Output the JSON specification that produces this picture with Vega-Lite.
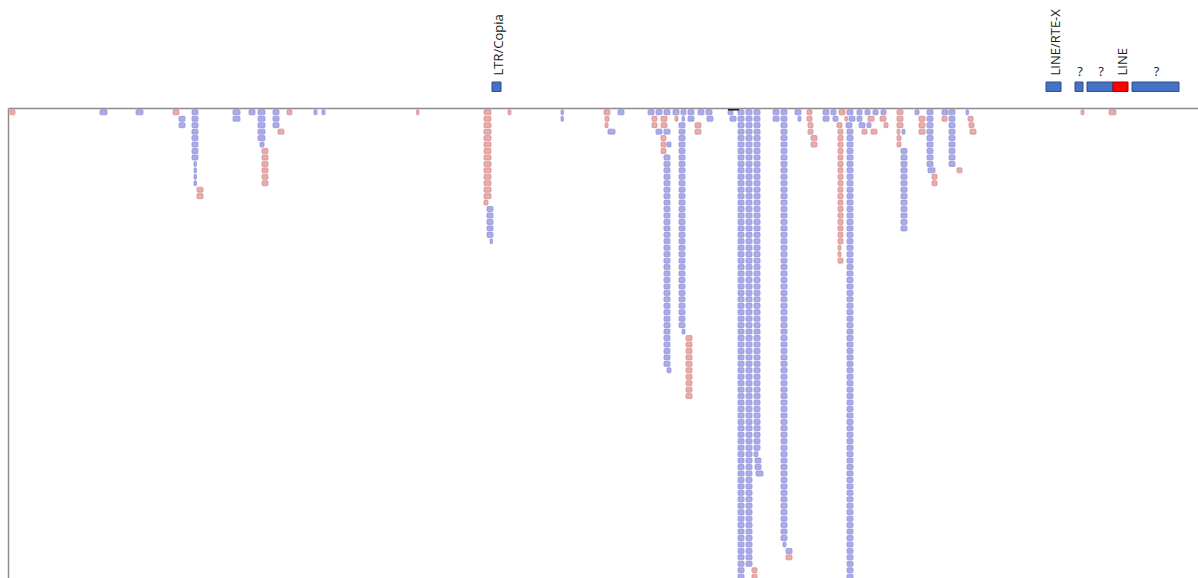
{
  "$schema": "https://vega.github.io/schema/vega-lite/v6.json",
  "width": 1190,
  "height": 470,
  "autosize": {"type": "none"},
  "padding": {"left": 8, "top": 108, "right": 0, "bottom": 0},
  "background": "white",
  "config": {"view": {"stroke": null}},
  "datasets": {
    "reads": [
      {"a":10,"b":15,"rows":[0],"cls":"f"},
      {"a":100,"b":107,"rows":[0],"cls":"r"},
      {"a":136,"b":143,"rows":[0],"cls":"r"},
      {"a":173,"b":179,"rows":[0],"cls":"f"},
      {"a":179,"b":185,"rows":[1,2],"cls":"r"},
      {"a":192,"b":198,"rows":[0,1,2,3,4,5,6,7],"cls":"r"},
      {"a":194,"b":196.5,"rows":[8,9,10,11],"cls":"r"},
      {"a":197,"b":203,"rows":[12,13],"cls":"f"},
      {"a":233,"b":240,"rows":[0,1],"cls":"r"},
      {"a":249,"b":255,"rows":[0],"cls":"r"},
      {"a":258,"b":265,"rows":[0,1,2,3,4],"cls":"r"},
      {"a":260,"b":264,"rows":[5],"cls":"r"},
      {"a":262,"b":268,"rows":[6,7,8,9,10,11],"cls":"f"},
      {"a":273,"b":279,"rows":[0,1,2],"cls":"r"},
      {"a":278,"b":284,"rows":[3],"cls":"f"},
      {"a":287,"b":292,"rows":[0],"cls":"f"},
      {"a":314,"b":317,"rows":[0],"cls":"r"},
      {"a":322,"b":325,"rows":[0],"cls":"r"},
      {"a":416.5,"b":419,"rows":[0],"cls":"f"},
      {"a":484,"b":491,"rows":[0,1,2,3,4,5,6,7,8,9,10,11,12,13],"cls":"f"},
      {"a":484,"b":488,"rows":[14],"cls":"f"},
      {"a":487,"b":493,"rows":[15,16,17,18,19],"cls":"r"},
      {"a":490,"b":492.5,"rows":[20],"cls":"r"},
      {"a":508,"b":511,"rows":[0],"cls":"f"},
      {"a":561,"b":563.5,"rows":[0,1],"cls":"r"},
      {"a":604,"b":610,"rows":[0],"cls":"f"},
      {"a":605,"b":609,"rows":[1],"cls":"f"},
      {"a":605,"b":608,"rows":[2],"cls":"f"},
      {"a":608,"b":615,"rows":[3],"cls":"r"},
      {"a":618,"b":624,"rows":[0],"cls":"r"},
      {"a":648,"b":654,"rows":[0],"cls":"r"},
      {"a":656,"b":662,"rows":[0],"cls":"r"},
      {"a":664,"b":670,"rows":[0],"cls":"r"},
      {"a":673,"b":679,"rows":[0],"cls":"r"},
      {"a":681,"b":686,"rows":[0],"cls":"r"},
      {"a":688,"b":694,"rows":[0,1],"cls":"r"},
      {"a":698,"b":704,"rows":[0],"cls":"r"},
      {"a":706,"b":712,"rows":[0],"cls":"r"},
      {"a":652,"b":657,"rows":[1,2],"cls":"f"},
      {"a":661,"b":667,"rows":[1,2],"cls":"f"},
      {"a":675,"b":678,"rows":[1],"cls":"f"},
      {"a":682,"b":684.5,"rows":[1],"cls":"r"},
      {"a":707,"b":713,"rows":[1],"cls":"r"},
      {"a":679,"b":685,"rows":[2,3,4,5,6,7,8,9,10,11,12,13,14,15,16,17,18,19,20,21,22,23,24,25,26,27,28,29,30,31,32,33],"cls":"r"},
      {"a":682,"b":685,"rows":[34],"cls":"r"},
      {"a":686,"b":692,"rows":[35,36,37,38,39,40,41,42,43,44],"cls":"f"},
      {"a":695,"b":701,"rows":[2,3],"cls":"f"},
      {"a":656,"b":662,"rows":[3],"cls":"r"},
      {"a":664,"b":670,"rows":[3],"cls":"r"},
      {"a":661,"b":666,"rows":[4,5,6],"cls":"f"},
      {"a":667,"b":671,"rows":[5],"cls":"r"},
      {"a":664,"b":670,"rows":[7,8,9,10,11,12,13,14,15,16,17,18,19,20,21,22,23,24,25,26,27,28,29,30,31,32,33,34,35,36,37,38,39],"cls":"r"},
      {"a":667,"b":671,"rows":[40],"cls":"r"},
      {"a":728,"b":733,"rows":[0],"cls":"r"},
      {"a":730,"b":736,"rows":[1],"cls":"r"},
      {"a":738,"b":744,"rows":[0,1,2,3,4,5,6,7,8,9,10,11,12,13,14,15,16,17,18,19,20,21,22,23,24,25,26,27,28,29,30,31,32,33,34,35,36,37,38,39,40,41,42,43,44,45,46,47,48,49,50,51,52,53,54,55,56,57,58,59,60,61,62,63,64,65,66,67,68,69,70,71,72],"cls":"r"},
      {"a":746,"b":752,"rows":[0,1,2,3,4,5,6,7,8,9,10,11,12,13,14,15,16,17,18,19,20,21,22,23,24,25,26,27,28,29,30,31,32,33,34,35,36,37,38,39,40,41,42,43,44,45,46,47,48,49,50,51,52,53,54,55,56,57,58,59,60,61,62,63,64,65,66,67,68,69,70],"cls":"r"},
      {"a":752,"b":757,"rows":[71,72],"cls":"f"},
      {"a":754,"b":760,"rows":[0,1,2,3,4,5,6,7,8,9,10,11,12,13,14,15,16,17,18,19,20,21,22,23,24,25,26,27,28,29,30,31,32,33,34,35,36,37,38,39,40,41,42,43,44,45,46,47,48,49,50,51,52],"cls":"r"},
      {"a":754,"b":758,"rows":[53],"cls":"r"},
      {"a":755,"b":761,"rows":[54,55],"cls":"r"},
      {"a":756,"b":763,"rows":[56],"cls":"r"},
      {"a":773,"b":779,"rows":[0,1],"cls":"r"},
      {"a":781,"b":787,"rows":[0,1,2,3,4,5,6,7,8,9,10,11,12,13,14,15,16,17,18,19,20,21,22,23,24,25,26,27,28,29,30,31,32,33,34,35,36,37,38,39,40,41,42,43,44,45,46,47,48,49,50,51,52,53,54,55,56,57,58,59,60,61,62,63,64,65,66],"cls":"r"},
      {"a":783,"b":786,"rows":[67],"cls":"r"},
      {"a":786,"b":792,"rows":[68],"cls":"r"},
      {"a":786,"b":792,"rows":[69],"cls":"f"},
      {"a":795,"b":801,"rows":[0],"cls":"r"},
      {"a":798,"b":801,"rows":[1],"cls":"r"},
      {"a":807,"b":812,"rows":[0,1],"cls":"f"},
      {"a":808,"b":813,"rows":[2,3],"cls":"f"},
      {"a":811,"b":817,"rows":[4,5],"cls":"f"},
      {"a":823,"b":829,"rows":[0,1],"cls":"r"},
      {"a":831,"b":836,"rows":[0],"cls":"r"},
      {"a":833,"b":838,"rows":[1],"cls":"r"},
      {"a":839,"b":845,"rows":[0],"cls":"f"},
      {"a":845,"b":847.5,"rows":[1],"cls":"f"},
      {"a":837,"b":842,"rows":[2],"cls":"f"},
      {"a":838,"b":843,"rows":[3,4,5,6,7,8,9,10,11,12,13,14,15,16,17,18,19,20],"cls":"f"},
      {"a":838,"b":841,"rows":[21,22],"cls":"f"},
      {"a":838,"b":843,"rows":[23],"cls":"f"},
      {"a":847,"b":853,"rows":[0],"cls":"r"},
      {"a":849,"b":855,"rows":[1],"cls":"r"},
      {"a":846,"b":852,"rows":[2],"cls":"r"},
      {"a":847,"b":853,"rows":[3,4,5,6,7,8,9,10,11,12,13,14,15,16,17,18,19,20,21,22,23,24,25,26,27,28,29,30,31,32,33,34,35,36,37,38,39,40,41,42,43,44,45,46,47,48,49,50,51,52,53,54,55,56,57,58,59,60,61,62,63,64,65,66,67,68,69,70,71,72],"cls":"r"},
      {"a":857,"b":862,"rows":[0,1],"cls":"r"},
      {"a":865,"b":870,"rows":[0],"cls":"r"},
      {"a":873,"b":878,"rows":[0],"cls":"r"},
      {"a":881,"b":886,"rows":[0],"cls":"r"},
      {"a":868,"b":874,"rows":[1],"cls":"f"},
      {"a":880,"b":886,"rows":[1],"cls":"f"},
      {"a":859,"b":865,"rows":[2],"cls":"r"},
      {"a":867,"b":871,"rows":[2],"cls":"r"},
      {"a":884,"b":888,"rows":[2],"cls":"f"},
      {"a":862,"b":867,"rows":[3],"cls":"f"},
      {"a":871,"b":877,"rows":[3],"cls":"f"},
      {"a":897,"b":903,"rows":[0,1,2],"cls":"f"},
      {"a":897,"b":900,"rows":[3],"cls":"f"},
      {"a":902,"b":905,"rows":[3],"cls":"r"},
      {"a":897,"b":901,"rows":[4,5],"cls":"f"},
      {"a":901,"b":907,"rows":[6,7,8,9,10,11,12,13,14,15,16,17,18],"cls":"r"},
      {"a":915,"b":919,"rows":[0],"cls":"r"},
      {"a":919,"b":925,"rows":[1,2,3],"cls":"f"},
      {"a":927,"b":933,"rows":[0,1,2,3,4,5,6,7,8],"cls":"r"},
      {"a":928,"b":935,"rows":[9],"cls":"r"},
      {"a":932,"b":937,"rows":[10,11],"cls":"f"},
      {"a":942,"b":948,"rows":[0],"cls":"r"},
      {"a":942,"b":947,"rows":[1],"cls":"f"},
      {"a":949,"b":955,"rows":[0,1,2,3,4,5,6,7,8],"cls":"r"},
      {"a":957,"b":962,"rows":[9],"cls":"f"},
      {"a":966,"b":968.5,"rows":[0],"cls":"r"},
      {"a":968,"b":973,"rows":[1],"cls":"f"},
      {"a":969,"b":974,"rows":[2],"cls":"f"},
      {"a":970,"b":976,"rows":[3],"cls":"f"},
      {"a":1081,"b":1084,"rows":[0],"cls":"f"},
      {"a":1109,"b":1116,"rows":[0],"cls":"f"}
    ],
    "repeats": [
      {"feature":"LTR/Copia","start":492,"end":501,"mid":496.5,"cls":"te","vertical":true},
      {"feature":"LINE/RTE-X","start":1046,"end":1061,"mid":1053.5,"cls":"te","vertical":true},
      {"feature":"?","start":1075,"end":1083,"mid":1079,"cls":"te","vertical":false},
      {"feature":"?","start":1087,"end":1113,"mid":1100,"cls":"te","vertical":false},
      {"feature":"LINE","start":1113,"end":1128,"mid":1120.5,"cls":"hl","vertical":true},
      {"feature":"?","start":1132,"end":1179,"mid":1155.5,"cls":"te","vertical":false}
    ],
    "marker": [
      {"start":728,"end":739}
    ]
  },
  "resolve": {"scale": {"y": "independent", "fill": "independent", "stroke": "independent"}, "axis": {"y": "independent"}},
  "layer": [
    {
      "data": {"name": "reads"},
      "transform": [{"flatten": ["rows"], "as": ["row"]}],
      "mark": {"type": "rect", "strokeWidth": 0.8, "cornerRadius": 1},
      "encoding": {
        "x": {
          "field": "a", "type": "quantitative",
          "scale": {"domain": [8, 1198], "nice": false, "zero": false},
          "axis": {"orient": "top", "domain": true, "domainColor": "#8c8c8c", "domainWidth": 1.5, "ticks": false, "labels": false, "grid": false, "title": null, "zindex": 2}
        },
        "x2": {"field": "b"},
        "y": {
          "field": "row", "type": "ordinal",
          "scale": {
            "type": "band",
            "domain": [0,1,2,3,4,5,6,7,8,9,10,11,12,13,14,15,16,17,18,19,20,21,22,23,24,25,26,27,28,29,30,31,32,33,34,35,36,37,38,39,40,41,42,43,44,45,46,47,48,49,50,51,52,53,54,55,56,57,58,59,60,61,62,63,64,65,66,67,68,69,70,71,72],
            "range": [1.8, 471.2],
            "paddingInner": 0.225,
            "paddingOuter": 0
          },
          "axis": null
        },
        "fill": {
          "field": "cls", "type": "nominal", "legend": null,
          "scale": {"domain": ["f", "r"], "range": ["#e9abab", "#ababe9"]}
        },
        "stroke": {
          "field": "cls", "type": "nominal", "legend": null,
          "scale": {"domain": ["f", "r"], "range": ["#d69292", "#9494db"]}
        }
      }
    },
    {
      "layer": [
        {
          "data": {"name": "repeats"},
          "mark": {"type": "rect", "strokeWidth": 1},
          "encoding": {
            "x": {"field": "start", "type": "quantitative"},
            "x2": {"field": "end"},
            "y": {
              "datum": -26, "type": "quantitative",
              "scale": {"domain": [0, 470], "nice": false, "zero": false, "reverse": true},
              "axis": {"orient": "left", "domain": true, "domainColor": "#8c8c8c", "domainWidth": 1.5, "ticks": false, "labels": false, "grid": false, "title": null, "zindex": 2}
            },
            "y2": {"datum": -16.5},
            "fill": {
              "field": "cls", "type": "nominal", "legend": null,
              "scale": {"domain": ["te", "hl"], "range": ["#4472c4", "#ff0000"]}
            },
            "stroke": {
              "field": "cls", "type": "nominal", "legend": null,
              "scale": {"domain": ["te", "hl"], "range": ["#2f4f8a", "#a00000"]}
            }
          }
        },
        {
          "data": {"name": "repeats"},
          "transform": [{"filter": "datum.vertical"}],
          "mark": {"type": "text", "angle": 270, "align": "left", "baseline": "middle", "font": "Open Sans", "fontSize": 13, "fill": "#1a1a1a", "dy": 2},
          "encoding": {
            "x": {"field": "mid", "type": "quantitative"},
            "y": {"datum": -32.5, "type": "quantitative"},
            "text": {"field": "feature"}
          }
        },
        {
          "data": {"name": "repeats"},
          "transform": [{"filter": "!datum.vertical"}],
          "mark": {"type": "text", "align": "center", "baseline": "alphabetic", "font": "Open Sans", "fontSize": 13, "fill": "#1a1a1a", "dx": 1},
          "encoding": {
            "x": {"field": "mid", "type": "quantitative"},
            "y": {"datum": -32, "type": "quantitative"},
            "text": {"field": "feature"}
          }
        },
        {
          "data": {"name": "marker"},
          "mark": {"type": "rect", "fill": "#000000"},
          "encoding": {
            "x": {"field": "start", "type": "quantitative"},
            "x2": {"field": "end"},
            "y": {"datum": 0, "type": "quantitative"},
            "y2": {"datum": 2.5}
          }
        }
      ]
    }
  ]
}
